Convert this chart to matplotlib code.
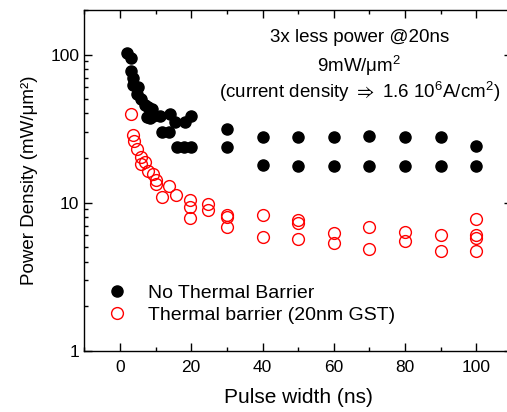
import matplotlib
matplotlib.use("Agg")
import matplotlib.pyplot as plt
from matplotlib.ticker import MultipleLocator, LogLocator, NullFormatter, FixedLocator, FixedFormatter

plt.rcParams['font.family'] = ['Liberation Sans', 'DejaVu Sans']
plt.rcParams['mathtext.fontset'] = 'custom'
plt.rcParams['mathtext.rm'] = 'Liberation Sans'
plt.rcParams['mathtext.it'] = 'Liberation Sans'
plt.rcParams['mathtext.fallback'] = 'stixsans'

# data
no_barrier_x = [2, 3, 3, 3.7, 3.7, 5, 4.7, 6, 7, 8, 9, 7.5, 8.4, 9.3, 11.2, 14, 15.4, 18.2, 20,
                11.7, 13.7, 16, 18, 20, 30, 30, 40, 40, 50, 50, 60, 60, 70, 70, 80, 80,
                90, 90, 100, 100]
no_barrier_y = [103, 95, 78, 70, 62, 60, 54, 50, 46, 44, 43, 38, 37.5, 38.7, 38.7, 39.4, 35, 35, 38.7,
                30, 30, 23.7, 23.7, 23.7, 31.5, 23.7, 27.7, 18, 27.7, 17.8, 27.7, 17.8, 28, 17.8, 27.9, 17.8,
                27.7, 17.8, 24.1, 17.8]

barrier_x = [3, 3.7, 3.9, 4.9, 5.8, 7, 5.8, 7.9, 9.3, 10, 10, 13.8, 11.9, 15.7, 19.6, 19.6, 19.6,
             24.8, 24.8, 30, 30, 30, 40, 40, 50, 50, 50, 60, 60, 70, 70, 80, 80, 90, 90,
             100, 100, 100, 100]
barrier_y = [39.8, 28.7, 26, 23.1, 20.3, 18.8, 18.3, 16.3, 15.5, 14.3, 13.4, 12.9, 11, 11.2, 10.5, 9.3, 7.9,
             9.8, 8.9, 8.3, 8.0, 6.8, 8.2, 5.9, 7.6, 7.3, 5.7, 6.2, 5.3, 6.85, 4.9, 6.3, 5.5, 6.0, 4.7,
             7.7, 6.0, 5.8, 4.7]

fig = plt.figure(figsize=(5.07, 4.12), dpi=100)
ax = fig.add_axes([0.1663, 0.1488, 0.8436, 0.8269])

ax.plot(no_barrier_x, no_barrier_y, 'o', color='black', markersize=8, linestyle='none',
        label='No Thermal Barrier')
ax.plot(barrier_x, barrier_y, 'o', markerfacecolor='none', markeredgecolor='red', markersize=8.5,
        markeredgewidth=1.0, linestyle='none', label='Thermal barrier (20nm GST)')

ax.set_yscale('log')
ax.set_xlim(-10, 110)
ax.set_ylim(1, 200)

ax.xaxis.set_major_locator(MultipleLocator(20))
ax.xaxis.set_minor_locator(MultipleLocator(10))
ax.yaxis.set_major_locator(FixedLocator([1, 10, 100]))
ax.yaxis.set_major_formatter(FixedFormatter(['1', '10', '100']))
ax.yaxis.set_minor_locator(LogLocator(base=10, subs=range(2, 10)))
ax.yaxis.set_minor_formatter(NullFormatter())

ax.tick_params(which='both', direction='in', top=True, right=True, labelsize=12.5, width=1)
ax.tick_params(which='major', length=6)
ax.tick_params(which='minor', length=3)
ax.tick_params(axis='x', pad=7)
for s in ax.spines.values():
    s.set_linewidth(1)

ax.set_xlabel('Pulse width (ns)', fontsize=15, labelpad=9)
ax.set_ylabel('Power Density (mW/\u03bcm\u00b2)', fontsize=13.5, labelpad=9)

ax.text(0.643, 0.945, '3x less power @20ns', transform=ax.transAxes, ha='center', va='top', fontsize=13.5)
ax.text(0.643, 0.87, '9mW/$\\mu$m$^2$', transform=ax.transAxes, ha='center', va='top', fontsize=13.5)
ax.text(0.643, 0.795, '(current density $\\Rightarrow$ 1.6 10$^6$A/cm$^2$)', transform=ax.transAxes,
        ha='center', va='top', fontsize=13.5)

ax.legend(loc='lower left', bbox_to_anchor=(0.03, 0.055), frameon=False, fontsize=14,
          handletextpad=1.0, borderaxespad=0, labelspacing=0.25, handlelength=1.2)

fig.savefig('out.png', dpi=100)
